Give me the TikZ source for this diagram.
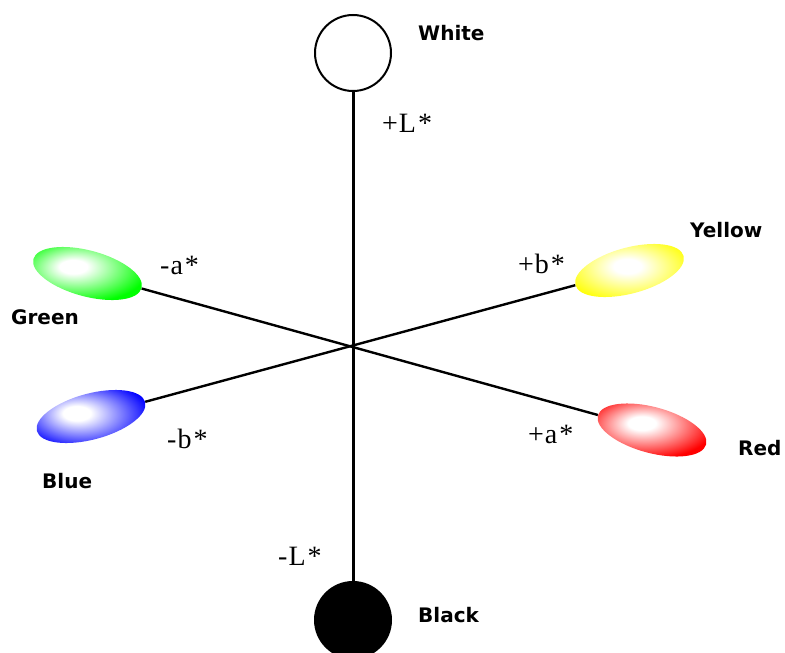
\documentclass[tikz,border=0pt]{standalone}
\usepackage{fontspec}
\usetikzlibrary{shapes.geometric}
\newfontfamily\namefont{DejaVu Sans}
\newfontfamily\axfont{Liberation Serif}
\pgfdeclareradialshading{glowgreen}{\pgfpoint{-7bp}{5bp}}{color(0bp)=(white); color(6bp)=(white); color(29bp)=(green); color(50bp)=(green)}
\pgfdeclareradialshading{glowred}{\pgfpoint{-5bp}{5bp}}{color(0bp)=(white); color(6bp)=(white); color(29bp)=(red); color(50bp)=(red)}
\pgfdeclareradialshading{glowyellow}{\pgfpoint{-1bp}{4bp}}{color(0bp)=(white); color(6bp)=(white); color(29bp)=(yellow); color(50bp)=(yellow)}
\pgfdeclareradialshading{glowblue}{\pgfpoint{-7bp}{3bp}}{color(0bp)=(white); color(6bp)=(white); color(29bp)=(blue); color(50bp)=(blue)}
\tikzset{
  blob/.style={ellipse, minimum width=112pt, minimum height=46pt, inner sep=0pt},
  pole/.style={circle, draw=black, line width=2pt, minimum size=76pt, inner sep=0pt},
  cname/.style={anchor=base west, inner sep=0pt, font=\namefont\bfseries\fontsize{20}{24}\selectfont},
  axlab/.style={anchor=base west, inner sep=0pt, font=\axfont\fontsize{28}{30}\selectfont},
  axis/.style={line width=3pt},
  diag/.style={line width=2.4pt}
}
\newcommand{\axtxt}[2]{#1\kern1pt #2\kern2pt *}
\begin{document}
\begin{tikzpicture}[x=1pt, y=-1pt]
\useasboundingbox (0,0) rectangle (785,653);
% poles
\node[pole, fill=white] (white) at (353,53) {};
\node[pole, fill=black] (black) at (353,620) {};
% colour blobs
\node[blob, rotate=-15, shading=glowgreen] (green) at (87.5,273.5) {};
\node[blob, rotate=-15, shading=glowred] (red) at (652,430) {};
\node[blob, rotate=15, shading=glowyellow] (yellow) at (629.5,270.5) {};
\node[blob, rotate=15, shading=glowblue] (blue) at (91,416.5) {};
% axes
\draw[axis] (white) -- (black);
\draw[diag] (green) -- (red);
\draw[diag] (blue) -- (yellow);
% colour names
\node[cname] (tw) at (418,40) {White};
\node[cname] (tk) at (418,622) {Black};
\node[cname] (ty) at (690,237) {Yellow};
\node[cname] (tr) at (738,455) {Red};
\node[cname] (tg) at (11,324) {Green};
\node[cname] (tb) at (42,488) {Blue};
% axis labels
\node[axlab] (lp) at (382,132) {\axtxt{+}{L}};
\node[axlab] (lm) at (278,565) {\axtxt{-}{L}};
\node[axlab] (am) at (160,274) {\axtxt{-}{a}};
\node[axlab] (ap) at (528,443) {\axtxt{+}{a}};
\node[axlab] (bp) at (518,273) {\axtxt{+}{b}};
\node[axlab] (bm) at (167,448) {\axtxt{-}{b}};
\end{tikzpicture}
\end{document}
